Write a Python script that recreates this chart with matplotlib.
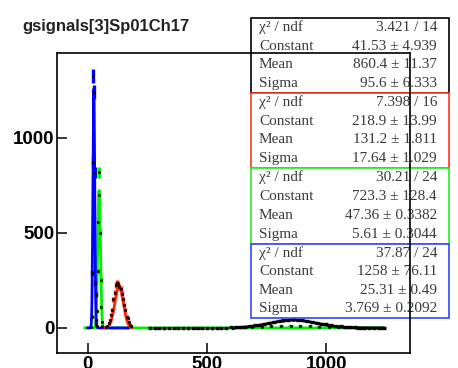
import numpy as np
import matplotlib
matplotlib.use('Agg')
import matplotlib.pyplot as plt
from matplotlib.patches import Rectangle

title = "gsignals[3]Sp01Ch17"
xticks = [0, 500, 1000]
yticks = [0, 500, 1000]

# ---- histogram data (bin centres / contents) ----
blue_w = 2.5
blue_x = [13.75, 16.25, 18.75, 21.25, 23.75, 26.25, 28.75, 31.25, 33.75, 36.25, 38.75]
blue_y = [5, 60, 289, 874, 1326, 1242, 816, 237, 174, 40, 8]

green_w = 2.5
green_x = [36.25, 38.75, 41.25, 43.75, 46.25, 48.75, 51.25, 53.75, 56.25, 58.75, 61.25]
green_y = [20, 90, 300, 560, 820, 700, 500, 252, 110, 30, 8]
green_far_x = [610, 650, 690, 730, 770, 810, 850, 890, 930, 970, 1010, 1050, 1090, 1130]
green_far_y = [2, 3, 4, 6, 8, 10, 9, 11, 8, 7, 6, 5, 3, 2]

red_w = 5
red_x = [77.5, 82.5, 87.5, 92.5, 97.5, 102.5, 107.5, 112.5, 117.5, 122.5, 127.5,
         132.5, 137.5, 142.5, 147.5, 152.5, 157.5, 162.5, 167.5, 172.5, 177.5, 182.5]
red_y = [5, 10, 25, 40, 70, 95, 150, 185, 225, 237, 230,
         215, 205, 180, 150, 120, 95, 60, 50, 30, 15, 8]

black_w = 20
black_x = [260, 280, 300, 320, 340, 360, 380, 400, 420, 440, 460, 480, 500, 520, 540, 560, 580,
           600, 620, 640, 660, 680, 700, 720, 740, 760, 780, 800, 820, 840, 860, 880, 900,
           920, 940, 960, 980, 1000, 1020, 1040, 1060, 1080, 1100, 1120, 1140, 1160, 1180,
           1200, 1220, 1240]
black_y = [0, 0, 1, 0, 0, 1, 0, 0, 1, 0, 1, 0, 1, 1, 2, 1, 2,
           3, 3, 5, 7, 10, 13, 17, 22, 27, 32, 36, 40, 43, 45, 42, 41,
           37, 33, 28, 23, 19, 15, 11, 8, 6, 4, 3, 2, 2, 1, 1, 0, 0]

# ---- gaussian fit parameters (constant, mean, sigma) and drawing ranges ----
black_fit = (41.53, 860.4, 95.6)
red_fit = (218.9, 131.2, 17.64)
green_fit = (723.3, 47.36, 5.61)
blue_fit = (1258, 25.31, 3.769)
black_range = (620, 1240)
red_range = (72, 185)
green_range = (-12, 1235)
blue_range = (0, 170)

# ---- stat boxes ----
stat_labels = ["\u03c7\u00b2 / ndf", "Constant", "Mean", "Sigma"]
black_stats = ["3.421 / 14", "41.53 \u00b1 4.939", "860.4 \u00b1 11.37", "95.6 \u00b1 6.333"]
red_stats = ["7.398 / 16", "218.9 \u00b1 13.99", "131.2 \u00b1 1.811", "17.64 \u00b1 1.029"]
green_stats = ["30.21 / 24", "723.3 \u00b1 128.4", "47.36 \u00b1 0.3382", "5.61 \u00b1 0.3044"]
blue_stats = ["37.87 / 24", "1258 \u00b1 76.11", "25.31 \u00b1 0.49", "3.769 \u00b1 0.2092"]

W, H = 458, 368
fig = plt.figure(figsize=(W / 100, H / 100), dpi=100)
ax = fig.add_axes([57 / W, 1 - 353 / H, (410 - 57) / W, (353 - 53) / H])
ax.set_xlim(-129, 1351)
ax.set_ylim(-132, 1447)

BLUE = '#0000ff'
GREEN = '#00ee00'
RED = '#ff2200'
BLACK = '#000000'


def gauss_curve(par, rng, color, z):
    c, m, s = par
    xx = np.linspace(rng[0], rng[1], 2000)
    ax.plot(xx, c * np.exp(-0.5 * ((xx - m) / s) ** 2), color=color, lw=2.0, zorder=z)


def data(x, y, w, color, z):
    x = np.asarray(x, float)
    y = np.asarray(y, float)
    ax.errorbar(x, y, xerr=w / 2 * 0.85, yerr=np.sqrt(y), fmt='s', ms=1.0,
                mfc='k', mec='k', ecolor=color, elinewidth=2.4, capsize=0, zorder=z)


gauss_curve(green_fit, green_range, GREEN, 1.0)
data(green_x, green_y, green_w, GREEN, 1.1)
data(green_far_x, green_far_y, black_w, GREEN, 1.1)
gauss_curve(blue_fit, blue_range, BLUE, 1.2)
data(blue_x, blue_y, blue_w, BLUE, 1.3)
data(red_x, red_y, red_w, RED, 1.4)
gauss_curve(red_fit, red_range, RED, 1.45)
data(black_x, black_y, black_w, BLACK, 1.5)
gauss_curve(black_fit, black_range, BLACK, 1.55)

ax.set_xticks(xticks)
ax.set_yticks(yticks)
ax.set_xticklabels([str(v) for v in xticks])
ax.set_yticklabels([str(v) for v in yticks])
ax.tick_params(direction='in', length=7.5, width=1.1, pad=2, top=False, right=False)
for lab in ax.get_xticklabels() + ax.get_yticklabels():
    lab.set_fontfamily('Liberation Sans')
    lab.set_fontweight('bold')
    lab.set_fontsize(13.5)
for sp in ax.spines.values():
    sp.set_linewidth(1.2)
    sp.set_zorder(3)

fig.text(22 / W, 1 - 27 / H, title, fontfamily='Liberation Sans', fontweight='bold',
         fontsize=12, ha='left', va='center', color='#222222')

boxes = [(18, 93, BLACK, black_stats), (93, 168, '#ff3322', red_stats),
         (168, 244, '#22ee22', green_stats), (244, 318, '#3344ff', blue_stats)]
bx0, bx1 = 251, 449
for top, bot, col, vals in boxes:
    r = Rectangle((bx0 / W, 1 - bot / H), (bx1 - bx0) / W, (bot - top) / H,
                  transform=fig.transFigure, facecolor='white', edgecolor=col,
                  lw=1.2, clip_on=False, zorder=2.2)
    ax.add_patch(r)
    rh = (bot - top) / 4
    for i, (lab, v) in enumerate(zip(stat_labels, vals)):
        yc = 1 - (top + (i + 0.5) * rh) / H
        ax.text(259 / W, yc, lab, transform=fig.transFigure, fontfamily='Liberation Serif',
                fontsize=11, ha='left', va='center', color='#3a3a3a', zorder=2.3, clip_on=False)
        ax.text(437 / W, yc, v, transform=fig.transFigure, fontfamily='Liberation Serif',
                fontsize=11, ha='right', va='center', color='#3a3a3a', zorder=2.3, clip_on=False)

fig.savefig('out.png', dpi=100)
